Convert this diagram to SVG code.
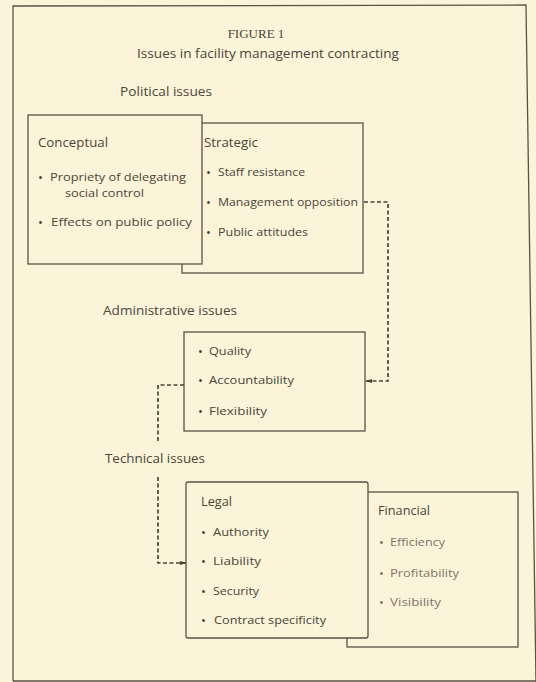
<svg xmlns="http://www.w3.org/2000/svg" width="536" height="682" viewBox="0 0 536 682">
<defs>
<style>
text{font-family:"Open Sans","Liberation Sans",sans-serif;fill:#4a4539;font-size:11.5px}
.h{font-size:12.5px}
.t{font-family:"Liberation Serif",serif;font-size:13px}
.b{font-size:13px}
.f{fill:#7a756a}
.box{fill:#fcf4d8;stroke:#5a5244;stroke-width:1.3}
.con{fill:none;stroke:#4a4336;stroke-width:1.7;stroke-dasharray:4 2.5}
</style>
<marker id="ah" viewBox="0 0 10 10" refX="9" refY="5" markerWidth="7" markerHeight="7" orient="auto" markerUnits="userSpaceOnUse">
<path d="M0,2 L10,5 L0,8 z" fill="#4a4336"/>
</marker>
</defs>
<rect x="0" y="0" width="536" height="682" fill="#fcf4d8"/>
<path d="M13,681 L13,6 L526,5 L536,682 M13,681 L536,681" fill="none" stroke="#5a5244" stroke-width="1.3"/>
<g id="title">
<text class="t" x="256" y="38" text-anchor="middle">FIGURE 1</text>
<text class="h" x="137" y="58" textLength="262" lengthAdjust="spacingAndGlyphs">Issues in facility management contracting</text>
</g>
<g id="political-label"><text class="h" x="120" y="96" textLength="92" lengthAdjust="spacingAndGlyphs">Political issues</text></g>
<g id="strategic">
<rect class="box" x="182" y="123" width="181" height="150"/>
<text class="h" x="204" y="147" textLength="54" lengthAdjust="spacingAndGlyphs">Strategic</text>
<text class="b" x="206" y="177">•</text><text x="218" y="176" textLength="87" lengthAdjust="spacingAndGlyphs">Staff resistance</text>
<text class="b" x="206" y="207">•</text><text x="218" y="206" textLength="140" lengthAdjust="spacingAndGlyphs">Management opposition</text>
<text class="b" x="206" y="237">•</text><text x="218" y="236" textLength="90" lengthAdjust="spacingAndGlyphs">Public attitudes</text>
</g>
<g id="conceptual">
<rect class="box" x="28" y="115" width="174" height="149"/>
<text class="h" x="38" y="147" textLength="70" lengthAdjust="spacingAndGlyphs">Conceptual</text>
<text class="b" x="38" y="182">•</text><text x="50" y="181" textLength="136" lengthAdjust="spacingAndGlyphs">Propriety of delegating</text>
<text x="65" y="197" textLength="79" lengthAdjust="spacingAndGlyphs">social control</text>
<text class="b" x="38" y="227">•</text><text x="51" y="226" textLength="141" lengthAdjust="spacingAndGlyphs">Effects on public policy</text>
</g>
<g id="administrative-label"><text class="h" x="103" y="315" textLength="134" lengthAdjust="spacingAndGlyphs">Administrative issues</text></g>
<g id="administrative">
<rect class="box" x="184" y="332" width="181" height="99"/>
<text class="b" x="198" y="356">•</text><text x="209" y="355" textLength="42" lengthAdjust="spacingAndGlyphs">Quality</text>
<text class="b" x="198" y="385">•</text><text x="209" y="384" textLength="85" lengthAdjust="spacingAndGlyphs">Accountability</text>
<text class="b" x="198" y="416">•</text><text x="209" y="415" textLength="58" lengthAdjust="spacingAndGlyphs">Flexibility</text>
</g>
<g id="technical-label"><text class="h" x="105" y="463" textLength="100" lengthAdjust="spacingAndGlyphs">Technical issues</text></g>
<g id="financial">
<rect class="box" x="347" y="492" width="171" height="155"/>
<text class="h" x="378" y="515" textLength="52" lengthAdjust="spacingAndGlyphs">Financial</text>
<text class="f b" x="379" y="547">•</text><text class="f" x="390" y="546" textLength="55" lengthAdjust="spacingAndGlyphs">Efficiency</text>
<text class="f b" x="379" y="578">•</text><text class="f" x="390" y="577" textLength="69" lengthAdjust="spacingAndGlyphs">Profitability</text>
<text class="f b" x="379" y="607">•</text><text class="f" x="390" y="606" textLength="51" lengthAdjust="spacingAndGlyphs">Visibility</text>
</g>
<g id="legal">
<rect class="box" x="186" y="482" width="182" height="156" rx="2"/>
<text class="h" x="201" y="506" textLength="31" lengthAdjust="spacingAndGlyphs">Legal</text>
<text class="b" x="201" y="537">•</text><text x="213" y="536" textLength="56" lengthAdjust="spacingAndGlyphs">Authority</text>
<text class="b" x="201" y="566">•</text><text x="213" y="565" textLength="48" lengthAdjust="spacingAndGlyphs">Liability</text>
<text class="b" x="201" y="596">•</text><text x="213" y="595" textLength="46" lengthAdjust="spacingAndGlyphs">Security</text>
<text class="b" x="201" y="625">•</text><text x="214" y="624" textLength="112" lengthAdjust="spacingAndGlyphs">Contract specificity</text>
</g>
<g id="connectors">
<path class="con" d="M364,202 L388,202 L388,381 L366,381" marker-end="url(#ah)"/>
<path class="con" d="M184,385 L158,385 L158,443"/>
<path class="con" d="M158,477 L158,563 L186,563" marker-end="url(#ah)"/>
</g>
</svg>
